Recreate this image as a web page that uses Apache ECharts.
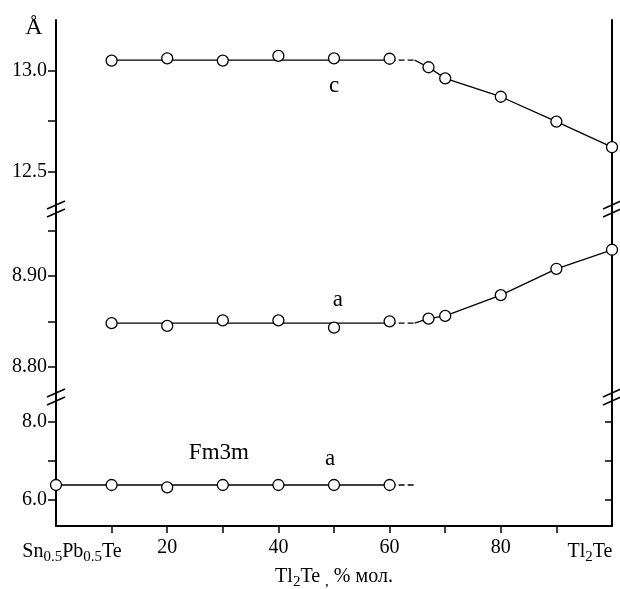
<!DOCTYPE html>
<html>
<head>
<meta charset="utf-8">
<script src="https://cdn.jsdelivr.net/npm/echarts@6/dist/echarts.min.js"></script>
<style>
  html, body { margin: 0; padding: 0; background: #fff; }
  #chart { width: 620px; height: 589px; }
</style>
</head>
<body>
<div id="chart"></div>
<script>
// Composition, mol % Tl2Te
const plateauX = [10, 20, 30, 40, 50, 60];
const trendX = [67, 70, 80, 90, 100];
const cubicX = [0, 10, 20, 30, 40, 50, 60];
const dashEndX = 64.5;

// Tetragonal phase, parameter c (Å)
const cPlateauPts = [13.050, 13.061, 13.050, 13.073, 13.061, 13.059];
const cPlateau = 13.052;
const cTrend = [13.017, 12.962, 12.871, 12.748, 12.621];

// Tetragonal phase, parameter a (Å)
const aPlateauPts = [8.848, 8.845, 8.851, 8.851, 8.843, 8.850];
const aPlateau = 8.848;
const aTrend = [8.853, 8.856, 8.879, 8.908, 8.929];

// Cubic Fm3m phase, parameter a (Å)
const cubicPts = [6.385, 6.385, 6.326, 6.385, 6.385, 6.385, 6.385];
const cubicPlateau = 6.385;

// Axis ticks and labels
const xTicks = [10, 20, 30, 40, 50, 60, 70, 80, 90];
const xLabels = [20, 40, 60, 80];
const cTicks = [12.5, 12.75, 13.0];
const cLabels = [12.5, 13.0];
const aTicks = [8.80, 8.85, 8.90, 8.95];
const aLabels = [8.80, 8.90];
const fTicks = [6, 7, 8];
const fLabels = [6, 8];
const cRange = [12.315, 13.251];
const aRange = [8.7665, 8.974];
const fRange = [5.333, 8.641];

const FONT = "'Liberation Serif', 'Times New Roman', serif";
const INK = '#000';

const grids = [
  { left: 56, right: 8, top: 20, height: 189, outerBoundsMode: 'none', containLabel: false },
  { left: 56, right: 8, top: 209, height: 188, outerBoundsMode: 'none', containLabel: false },
  { left: 56, right: 8, top: 397, height: 129, outerBoundsMode: 'none', containLabel: false }
];

const subRich = {
  t: { fontFamily: FONT, fontSize: 20, color: INK, lineHeight: 26 },
  s: { fontFamily: FONT, fontSize: 15, color: INK, lineHeight: 10, verticalAlign: 'bottom' }
};

const pts = (xs, ys) => xs.map((x, i) => [x, ys[i]]);

function xAxisFor(i) {
  if (i < 2) return { gridIndex: i, type: 'value', min: 0, max: 100, show: false };
  return {
    gridIndex: i, type: 'value', min: 0, max: 100,
    axisLine: { show: true, onZero: false, lineStyle: { color: INK, width: 2 } },
    axisTick: { show: true, length: 7, customValues: xTicks, lineStyle: { color: INK, width: 1.5 } },
    axisLabel: { show: true, customValues: xLabels, margin: 12, color: INK, fontFamily: FONT, fontSize: 20 },
    splitLine: { show: false },
    name: '{t|Tl}{s|2}{t|Te }{s|,}{t| % мол.}',
    nameLocation: 'middle',
    nameGap: 38,
    nameTextStyle: { rich: subRich }
  };
}

function yAxesFor(i, range, ticks, labels, digits) {
  const left = {
    gridIndex: i, type: 'value', position: 'left', min: range[0], max: range[1],
    axisLine: { show: true, onZero: false, lineStyle: { color: INK, width: 2 } },
    axisTick: { show: true, length: 8, customValues: ticks, lineStyle: { color: INK, width: 1.5 } },
    axisLabel: {
      show: true, customValues: labels, margin: 9, color: INK, fontFamily: FONT, fontSize: 20,
      formatter: v => Number(v).toFixed(digits)
    },
    splitLine: { show: false }
  };
  const right = {
    gridIndex: i, type: 'value', position: 'right', min: range[0], max: range[1],
    axisLine: { show: true, onZero: false, lineStyle: { color: INK, width: 2 } },
    axisTick: i === 2
      ? { show: true, inside: true, length: 7, customValues: ticks, lineStyle: { color: INK, width: 1.5 } }
      : { show: false },
    axisLabel: { show: false },
    splitLine: { show: false }
  };
  return [left, right];
}

function lineSeries(i, data, dashed) {
  return {
    type: 'line', xAxisIndex: i, yAxisIndex: 2 * i, data,
    symbol: 'none', silent: true, animation: false, z: 2,
    lineStyle: { color: INK, width: 1.3, type: dashed ? [6, 3] : 'solid' }
  };
}

function pointSeries(i, data) {
  return {
    type: 'scatter', xAxisIndex: i, yAxisIndex: 2 * i, data,
    symbol: 'circle', symbolSize: 11, clip: false, animation: false, z: 5,
    itemStyle: { color: '#fff', borderColor: INK, borderWidth: 1.3, opacity: 1 }
  };
}

const series = [
  // c
  lineSeries(0, [[plateauX[0], cPlateau], [plateauX[plateauX.length - 1], cPlateau]], false),
  lineSeries(0, [[plateauX[plateauX.length - 1], cPlateau], [dashEndX, cPlateau]], true),
  lineSeries(0, [[dashEndX, cPlateau]].concat(pts(trendX, cTrend)), false),
  pointSeries(0, pts(plateauX, cPlateauPts).concat(pts(trendX, cTrend))),
  // a (tetragonal)
  lineSeries(1, [[plateauX[0], aPlateau], [plateauX[plateauX.length - 1], aPlateau]], false),
  lineSeries(1, [[plateauX[plateauX.length - 1], aPlateau], [dashEndX, aPlateau]], true),
  lineSeries(1, [[dashEndX, aPlateau]].concat(pts(trendX, aTrend)), false),
  pointSeries(1, pts(plateauX, aPlateauPts).concat(pts(trendX, aTrend))),
  // a (cubic)
  lineSeries(2, [[cubicX[0], cubicPlateau], [cubicX[cubicX.length - 1], cubicPlateau]], false),
  lineSeries(2, [[cubicX[cubicX.length - 1], cubicPlateau], [dashEndX, cubicPlateau]], true),
  pointSeries(2, pts(cubicX, cubicPts))
];

const chart = echarts.init(document.getElementById('chart'), null, { renderer: 'canvas' });
chart.setOption({
  backgroundColor: '#fff',
  animation: false,
  grid: grids,
  xAxis: [0, 1, 2].map(xAxisFor),
  yAxis: []
    .concat(yAxesFor(0, cRange, cTicks, cLabels, 1))
    .concat(yAxesFor(1, aRange, aTicks, aLabels, 2))
    .concat(yAxesFor(2, fRange, fTicks, fLabels, 1)),
  series
});

// Text annotations placed in data coordinates of their panel
const notes = [
  { grid: 0, at: [50, 12.923], text: 'c' },
  { grid: 1, at: [50.7, 8.8735], text: 'a' },
  { grid: 2, at: [29.3, 7.205], text: 'Fm3m' },
  { grid: 2, at: [49.3, 7.05], text: 'a' }
];
const toPx = (g, p) => chart.convertToPixel({ xAxisIndex: g, yAxisIndex: 2 * g }, p);

const graphics = [];
notes.forEach(n => {
  const [x, y] = toPx(n.grid, n.at);
  graphics.push({
    type: 'text', x, y, silent: true,
    style: { text: n.text, fill: INK, font: '23px ' + FONT, align: 'center', verticalAlign: 'middle' }
  });
});

// Compound names at both ends of the composition axis
const xAxisY = grids[2].top + grids[2].height;
const leftX = toPx(2, [0, fRange[0]])[0];
const rightX = toPx(2, [100, fRange[0]])[0];
graphics.push({
  type: 'text', x: leftX + 16, y: xAxisY + 26, silent: true,
  style: {
    text: '{t|Sn}{s|0.5}{t|Pb}{s|0.5}{t|Te}', rich: subRich,
    align: 'center', verticalAlign: 'middle'
  }
});
graphics.push({
  type: 'text', x: rightX - 22, y: xAxisY + 26, silent: true,
  style: {
    text: '{t|Tl}{s|2}{t|Te}', rich: subRich,
    align: 'center', verticalAlign: 'middle'
  }
});

// Unit symbol at the top of the value axis
graphics.push({
  type: 'text', x: leftX - 22, y: grids[0].top + 8, silent: true,
  style: { text: 'Å', fill: INK, font: '24px ' + FONT, align: 'center', verticalAlign: 'middle' }
});

// Axis break marks at the panel boundaries
[grids[1].top, grids[2].top].forEach(by => {
  [leftX, rightX].forEach(ax => {
    [-4, 4].forEach(off => {
      graphics.push({
        type: 'line', silent: true,
        shape: { x1: ax - 9, y1: by + off + 4, x2: ax + 9, y2: by + off - 4 },
        style: { stroke: INK, lineWidth: 1.5 }
      });
    });
  });
});

chart.setOption({ graphic: graphics });
</script>
</body>
</html>
